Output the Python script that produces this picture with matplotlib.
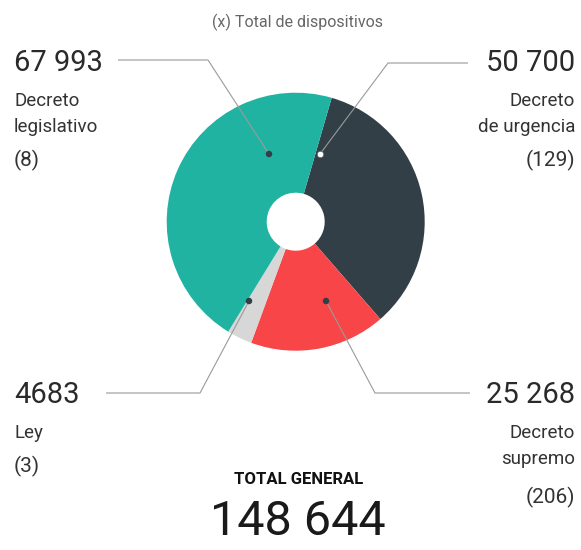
import matplotlib
matplotlib.use("Agg")
import matplotlib.pyplot as plt

# data (clockwise from the top seam)
categories = ["Decreto de urgencia", "Decreto supremo", "Ley", "Decreto legislativo"]
totals = [50700, 25268, 4683, 67993]
counts = [129, 206, 3, 8]
value_labels = ["50 700", "25 268", "4683", "67 993"]
name_lines = [["Decreto", "de urgencia"], ["Decreto", "supremo"], ["Ley"], ["Decreto", "legislativo"]]
colors = ["#333f47", "#f84548", "#d7d7d7", "#21b3a2"]
total_label = "148 644"

W, H = 581, 550
FONT = "Roboto"
LINE_C = "#9a9a9a"

fig = plt.figure(figsize=(W / 100, H / 100), dpi=100)
ax = fig.add_axes([0, 0, 1, 1])

cx, cy, r_out, r_in = 295.7, H - 221.7, 129, 29
ax.pie(totals, colors=colors, startangle=73.8, counterclock=False,
       radius=r_out, center=(cx, cy),
       wedgeprops=dict(width=r_out - r_in, edgecolor="none", linewidth=0))
ax.set_xlim(0, W)
ax.set_ylim(0, H)
ax.set_aspect("equal")
ax.axis("off")

def y(v):
    return H - v

# leader lines: dot -> elbow -> end, (image pixel coords), dot style, label side
leaders = [
    dict(dot=(320, 154), elbow=(388, 63), end=(468, 63), dotc="white", side="right", ytop=63),
    dict(dot=(326, 301), elbow=(375, 393), end=(470, 393), dotc="#333f47", side="right", ytop=395),
    dict(dot=(249, 301), elbow=(200, 393), end=(106, 393), dotc="#333f47", side="left", ytop=395),
    dict(dot=(269, 154), elbow=(208, 60), end=(118, 60), dotc="#333f47", side="left", ytop=63),
]

for i, ld in enumerate(leaders):
    xs = [ld["dot"][0], ld["elbow"][0], ld["end"][0]]
    ys = [y(ld["dot"][1]), y(ld["elbow"][1]), y(ld["end"][1])]
    ax.plot(xs, ys, color=LINE_C, lw=0.8, zorder=3, solid_capstyle="butt")
    ax.scatter([ld["dot"][0]], [y(ld["dot"][1])], s=22, color=ld["dotc"],
               edgecolor="#555555" if ld["dotc"] == "white" else "none",
               linewidth=0.5, zorder=4)

    if ld["side"] == "left":
        tx, ha = 14, "left"
    else:
        tx, ha = 575, "right"
    top = ld["ytop"]
    ax.text(tx, y(top), value_labels[i], ha=ha, va="center", fontsize=21,
            family=FONT, color="#2a2a2a")
    step = 26 if len(name_lines[i]) > 1 else 0
    first = top + 38
    for k, line in enumerate(name_lines[i]):
        ax.text(tx, y(first + k * step), line, ha=ha, va="center", fontsize=13.5,
                family=FONT, color="#333333")
    ypar = first + (len(name_lines[i]) - 1) * step + 33 + (5 if ld["side"] == "right" and top > 300 else 0)
    ax.text(tx, y(ypar), f"({counts[i]})", ha=ha, va="center", fontsize=15,
            family=FONT, color="#333333")

ax.text(298, y(22), "(x) Total de dispositivos", ha="center", va="center",
        fontsize=11.5, family=FONT, color="#666666")
ax.text(299, y(480), "TOTAL GENERAL", ha="center", va="center",
        fontsize=12, family=FONT, fontweight="bold", color="#111111")
ax.text(298, y(522), total_label, ha="center", va="center",
        fontsize=35, family=FONT, color="#1a1a1a")

fig.savefig("out.png", dpi=100)
